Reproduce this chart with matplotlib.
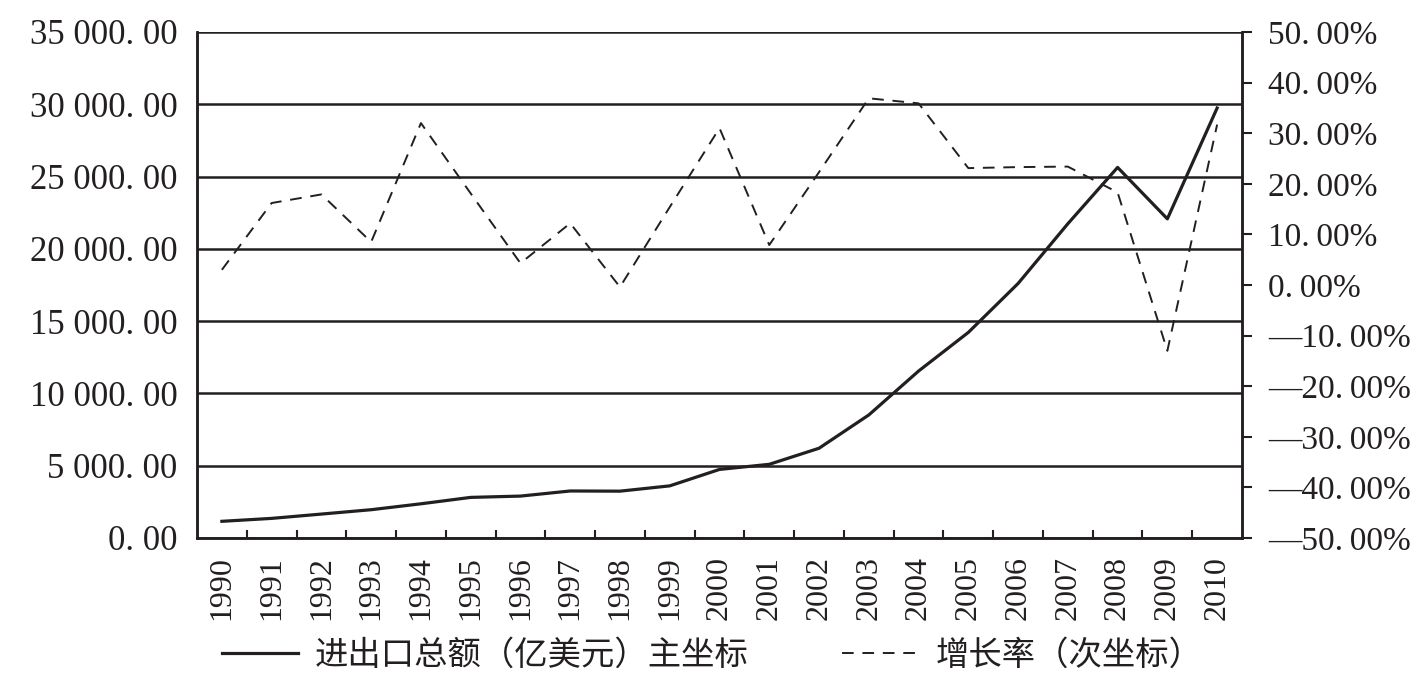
import matplotlib
matplotlib.use('Agg')
import matplotlib.pyplot as plt
from matplotlib.ticker import FixedLocator, FuncFormatter

years = ['1990', '1991', '1992', '1993', '1994', '1995', '1996', '1997', '1998', '1999',
         '2000', '2001', '2002', '2003', '2004', '2005', '2006', '2007', '2008', '2009', '2010']

# 进出口总额（亿美元）
trade_total = [1154, 1357, 1655, 1957, 2366, 2809, 2899, 3252, 3240, 3606,
               4743, 5097, 6208, 8510, 11546, 14219, 17604, 21737, 25633, 22075, 29740]

# 增长率（%）
growth_rate = [3.0, 16.2, 17.9, 8.5, 32.0, 18.1, 4.3, 12.2, -0.4, 15.4,
               31.0, 7.9, 22.3, 36.9, 35.9, 23.1, 23.3, 23.4, 18.3, -13.0, 31.7]

left_ticks = [0, 5000, 10000, 15000, 20000, 25000, 30000, 35000]
right_ticks = [-50, -40, -30, -20, -10, 0, 10, 20, 30, 40, 50]

legend_labels = ['进出口总额（亿美元）主坐标', '增长率（次坐标）']

NUM_FONT = ['Liberation Serif', 'Noto Sans CJK SC']
CJK_FONT = ['Noto Sans CJK SC', 'DejaVu Sans']
INK = '#231f20'


def left_fmt(v, pos):
    s = f'{v:,.2f}'.replace(',', ' ')
    return s.replace('.', '. ')


def right_fmt(v, pos):
    s = f'{abs(v):.2f}%'.replace('.', '.\u2009')
    return ('\u2014' + s) if v < 0 else s


def main():
    fig = plt.figure(figsize=(14.27, 6.89), dpi=100)
    ax = fig.add_axes([197 / 1427, 1 - 538 / 689, (1242 - 197) / 1427, (538 - 32) / 689])
    ax2 = ax.twinx()

    x = list(range(len(years)))

    line1, = ax.plot(x, trade_total, color=INK, linewidth=2.3, zorder=3)
    line2, = ax2.plot(x, growth_rate, color=INK, linewidth=1.4,
                      linestyle=(0, (6, 4.5)), zorder=3)

    ax.set_xlim(-0.5, len(years) - 0.5)
    ax.set_ylim(0, 35000)
    ax2.set_ylim(-50, 50)

    ax.yaxis.set_major_locator(FixedLocator(left_ticks))
    ax.yaxis.set_major_formatter(FuncFormatter(left_fmt))
    ax2.yaxis.set_major_locator(FixedLocator(right_ticks))
    ax2.yaxis.set_major_formatter(FuncFormatter(right_fmt))

    ax.set_xticks(x)
    ax.set_xticklabels(years, rotation=90)
    ax.set_xticks([i + 0.5 for i in x[:-1]], minor=True)

    ax.grid(axis='y', color=INK, linewidth=1.8)
    ax.set_axisbelow(True)

    for a in (ax, ax2):
        for side, sp in a.spines.items():
            sp.set_color(INK)
            sp.set_linewidth(1.8)
    ax.spines['top'].set_visible(False)
    ax2.spines['top'].set_visible(False)

    ax.tick_params(axis='y', length=0, pad=14, labelsize=25, labelcolor=INK)
    ax.tick_params(axis='x', which='major', length=0, pad=13, labelsize=23, labelcolor=INK)
    ax.tick_params(axis='x', which='minor', direction='in', length=6, width=1.5, color=INK)
    ax2.tick_params(axis='y', direction='out', length=7, width=1.5, color=INK,
                    pad=12, labelsize=24, labelcolor=INK)

    for lab in ax.get_yticklabels() + ax.get_xticklabels() + ax2.get_yticklabels():
        lab.set_family(NUM_FONT)

    fig.legend(handles=[line1, line2], labels=legend_labels,
               loc='center', bbox_to_anchor=(712 / 1427, 1 - 655 / 689),
               ncol=2, frameon=False, handlelength=2.3, handletextpad=0.5,
               columnspacing=2.8, prop={'family': CJK_FONT, 'size': 24},
               labelcolor=INK)

    fig.savefig('out.png', dpi=100)
    plt.close(fig)


if __name__ == '__main__':
    main()
